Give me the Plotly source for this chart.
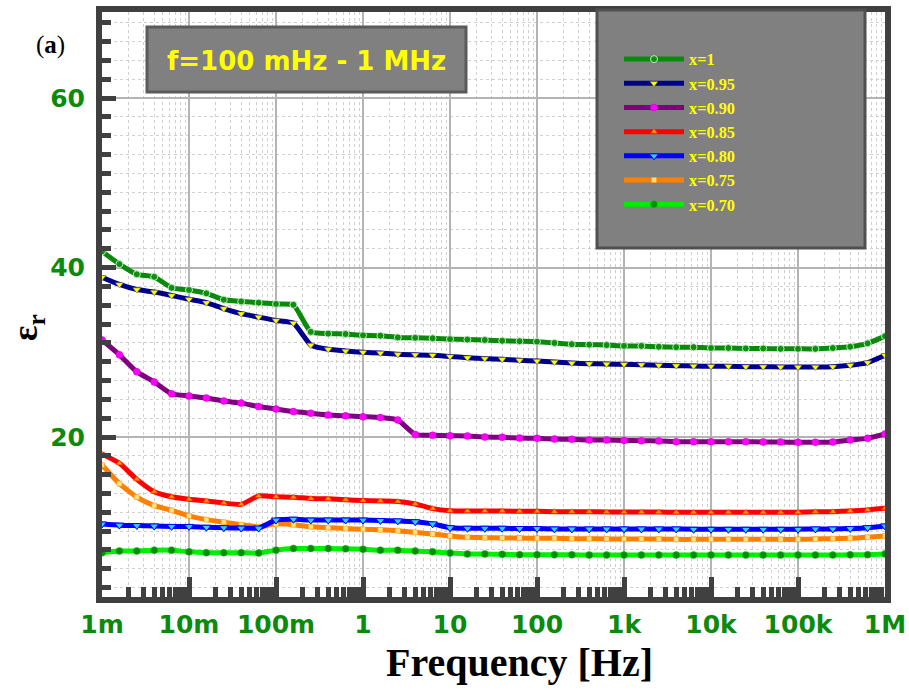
import plotly.graph_objects as go

# frequency grid: 5 points per decade, 1 mHz .. 1 MHz
log_f = [round(-3 + 0.2 * i, 1) for i in range(46)]
freq = [10 ** v for v in log_f]

series_names = ["x=1", "x=0.95", "x=0.90", "x=0.85", "x=0.80", "x=0.75", "x=0.70"]

eps_x100 = [41.9, 40.4, 39.2, 38.9, 37.6, 37.35, 36.95, 36.2, 36.0, 35.85, 35.7, 35.6,
            32.4, 32.2, 32.15, 32.0, 31.95, 31.75, 31.7, 31.65, 31.55,
            31.5, 31.45, 31.35, 31.3, 31.25, 31.1, 30.95, 30.9, 30.85, 30.75,
            30.75, 30.65, 30.6, 30.6, 30.5, 30.5, 30.45, 30.45, 30.4, 30.4,
            30.4, 30.5, 30.65, 31.05, 31.9]
eps_x095 = [38.85, 38.0, 37.4, 37.1, 36.7, 36.25, 35.85, 35.15, 34.55, 34.15, 33.75, 33.45,
            30.85, 30.35, 30.15, 30.0, 29.9, 29.75, 29.7, 29.65, 29.5,
            29.36, 29.25, 29.17, 29.05, 28.97, 28.85, 28.73, 28.65, 28.61, 28.57,
            28.53, 28.46, 28.42, 28.38, 28.34, 28.34, 28.3, 28.3, 28.26, 28.26,
            28.26, 28.3, 28.46, 28.78, 29.64]
eps_x090 = [31.45, 29.7, 27.7, 26.5, 25.1, 24.85, 24.6, 24.25, 24.0, 23.6, 23.3, 23.0,
            22.8, 22.6, 22.5, 22.4, 22.3, 22.0, 20.3, 20.2, 20.14,
            20.12, 20.0, 19.96, 19.88, 19.84, 19.76, 19.72, 19.65, 19.65, 19.6,
            19.57, 19.53, 19.45, 19.45, 19.45, 19.45, 19.45, 19.41, 19.41, 19.37,
            19.37, 19.41, 19.65, 19.84, 20.35]
eps_x085 = [18.0, 16.9, 15.0, 13.55, 12.95, 12.65, 12.45, 12.2, 12.05, 13.05, 12.95, 12.9,
            12.75, 12.7, 12.6, 12.5, 12.45, 12.4, 12.1, 11.55, 11.3,
            11.27, 11.27, 11.27, 11.23, 11.23, 11.19, 11.19, 11.19, 11.15, 11.15,
            11.15, 11.15, 11.11, 11.11, 11.11, 11.11, 11.11, 11.11, 11.11, 11.11,
            11.19, 11.19, 11.27, 11.39, 11.58]
eps_x080 = [9.73, 9.6, 9.55, 9.5, 9.45, 9.45, 9.35, 9.3, 9.25, 9.25, 10.2, 10.3,
            10.2, 10.2, 10.2, 10.2, 10.15, 10.1, 10.0, 9.75, 9.3,
            9.23, 9.23, 9.23, 9.2, 9.2, 9.15, 9.15, 9.15, 9.15, 9.15,
            9.15, 9.15, 9.15, 9.11, 9.11, 9.11, 9.11, 9.11, 9.11, 9.11,
            9.15, 9.15, 9.2, 9.3, 9.5]
eps_x075 = [16.7, 14.5, 12.9, 11.9, 11.35, 10.7, 10.25, 9.95, 9.65, 9.4, 9.75, 9.65,
            9.4, 9.3, 9.2, 9.1, 9.05, 8.95, 8.75, 8.55, 8.33,
            8.16, 8.12, 8.08, 8.08, 8.04, 8.04, 8.0, 8.0, 7.96, 7.96,
            7.96, 7.96, 7.92, 7.92, 7.92, 7.92, 7.92, 7.92, 7.92, 7.92,
            7.96, 8.0, 8.04, 8.16, 8.33]
eps_x070 = [6.35, 6.55, 6.55, 6.65, 6.65, 6.45, 6.35, 6.35, 6.35, 6.3, 6.65, 6.85,
            6.85, 6.85, 6.8, 6.75, 6.65, 6.65, 6.55, 6.45, 6.3,
            6.2, 6.2, 6.15, 6.12, 6.12, 6.1, 6.1, 6.08, 6.08, 6.08,
            6.08, 6.08, 6.08, 6.08, 6.08, 6.08, 6.08, 6.08, 6.08, 6.08,
            6.08, 6.08, 6.1, 6.12, 6.2]

x_tickvals = [1e-3, 1e-2, 1e-1, 1, 10, 100, 1e3, 1e4, 1e5, 1e6]
x_ticktext = ["1m", "10m", "100m", "1", "10", "100", "1k", "10k", "100k", "1M"]
y_tickvals = [20, 40, 60]

styles = {
    "x=1":    dict(line="#0a8a0a", marker=dict(symbol="circle", size=7, color="#128c12", line=dict(color="#b8f0b8", width=1))),
    "x=0.95": dict(line="#00008b", marker=dict(symbol="triangle-down", size=7, color="#ffff00", line=dict(color="#555555", width=0.5))),
    "x=0.90": dict(line="#800080", marker=dict(symbol="circle", size=7, color="#ff00ff", line=dict(color="#cc00cc", width=0.5))),
    "x=0.85": dict(line="#ff0000", marker=dict(symbol="triangle-up", size=6, color="#ff9900", line=dict(color="#ff3300", width=0.5))),
    "x=0.80": dict(line="#0000ff", marker=dict(symbol="triangle-down", size=8, color="#33ccff", line=dict(color="#0000ff", width=1))),
    "x=0.75": dict(line="#ff8000", marker=dict(symbol="square", size=5, color="#ffe08a", line=dict(color="#ff9900", width=0.5))),
    "x=0.70": dict(line="#00ee00", marker=dict(symbol="circle", size=7, color="#0a8a0a", line=dict(color="#00cc00", width=0.5))),
}
data = {
    "x=1": eps_x100, "x=0.95": eps_x095, "x=0.90": eps_x090, "x=0.85": eps_x085,
    "x=0.80": eps_x080, "x=0.75": eps_x075, "x=0.70": eps_x070,
}

fig = go.Figure()
for rank, name in reversed(list(enumerate(series_names))):
    st = styles[name]
    fig.add_trace(go.Scatter(
        x=freq, y=data[name], name=name, mode="lines+markers",
        line=dict(color=st["line"], width=5, shape="spline", smoothing=0.5),
        marker=st["marker"], legendrank=rank + 1,
    ))

# plot-area geometry (pixels) used for paper coordinates of decorations
L, R, T, B = 102, 24, 12, 94
W, H = 909, 691
pw, ph = W - L - R, H - T - B
def px(x):
    return (x - L) / pw
def py(y):
    return (H - B - y) / ph

green = "#0b8a0b"
tick_font = dict(family="DejaVu Sans", size=25, color=green, weight="bold")
fig.update_xaxes(
    type="log", range=[-3, 6], automargin=False,
    tickvals=x_tickvals, ticktext=x_ticktext,
    tickfont=tick_font,
    ticks="inside", ticklen=20, tickwidth=5, tickcolor="#404040",
    showline=True, linewidth=6, linecolor="#404040", mirror=True,
    showgrid=True, gridcolor="#b4b4b4", gridwidth=1.5,
    minor=dict(ticks="inside", ticklen=10, tickwidth=5, tickcolor="#404040",
               dtick="D1", showgrid=True, gridcolor="#d0d0d0", griddash="dot", gridwidth=1),
    zeroline=False,
)
fig.update_yaxes(
    range=[1.12, 70.15], automargin=False,
    tickvals=y_tickvals,
    tickfont=tick_font, ticklabelstandoff=6,
    ticks="inside", ticklen=14, tickwidth=5, tickcolor="#404040",
    showline=True, linewidth=6, linecolor="#404040", mirror=True,
    showgrid=True, gridcolor="#b4b4b4", gridwidth=1.5,
    minor=dict(ticks="inside", ticklen=9, tickwidth=5, tickcolor="#404040",
               tick0=0, dtick=20 / 9, showgrid=True, gridcolor="#d0d0d0", griddash="dot", gridwidth=1),
    zeroline=False,
)

shapes = [
    # title box
    dict(type="rect", xref="paper", yref="paper", x0=px(147), x1=px(466), y0=py(92), y1=py(27),
         fillcolor="#808080", line=dict(color="#5a5a5a", width=3), layer="above"),
    # legend box
    dict(type="rect", xref="paper", yref="paper", x0=px(597), x1=px(865), y0=py(248), y1=py(10),
         fillcolor="#808080", line=dict(color="#505050", width=3), layer="above"),
]

def ann(x, y, text, font, **kw):
    return dict(x=px(x), y=py(y), xref="paper", yref="paper", text=text, showarrow=False,
                xanchor="center", yanchor="middle", font=font, **kw)

annotations = [
    ann(306, 61, "<b>f=100 mHz - 1 MHz</b>", dict(family="DejaVu Sans", size=26, color="#ffff00")),
    ann(50, 45, "(<b>a</b>)", dict(family="Liberation Serif", size=25, color="#000000")),
    ann(519, 662, "<b>Frequency [Hz]</b>", dict(family="Liberation Serif", size=40, color="#000000")),
    ann(27, 328, "<b>ε<sub>r</sub></b>", dict(family="Liberation Serif", size=36, color="#000000"), textangle=-90),
]

fig.update_layout(
    width=W, height=H,
    margin=dict(l=L, r=R, t=T, b=B, autoexpand=False),
    paper_bgcolor="white", plot_bgcolor="white",
    shapes=shapes, annotations=annotations,
    showlegend=True,
    legend=dict(x=px(619), y=py(42), xanchor="left", yanchor="top",
                bgcolor="rgba(0,0,0,0)", itemwidth=60, tracegroupgap=0,
                font=dict(family="Liberation Serif", size=16.3, color="#ffff00", weight="bold"),
                traceorder="normal"),
)

fig.write_html("out.html")
